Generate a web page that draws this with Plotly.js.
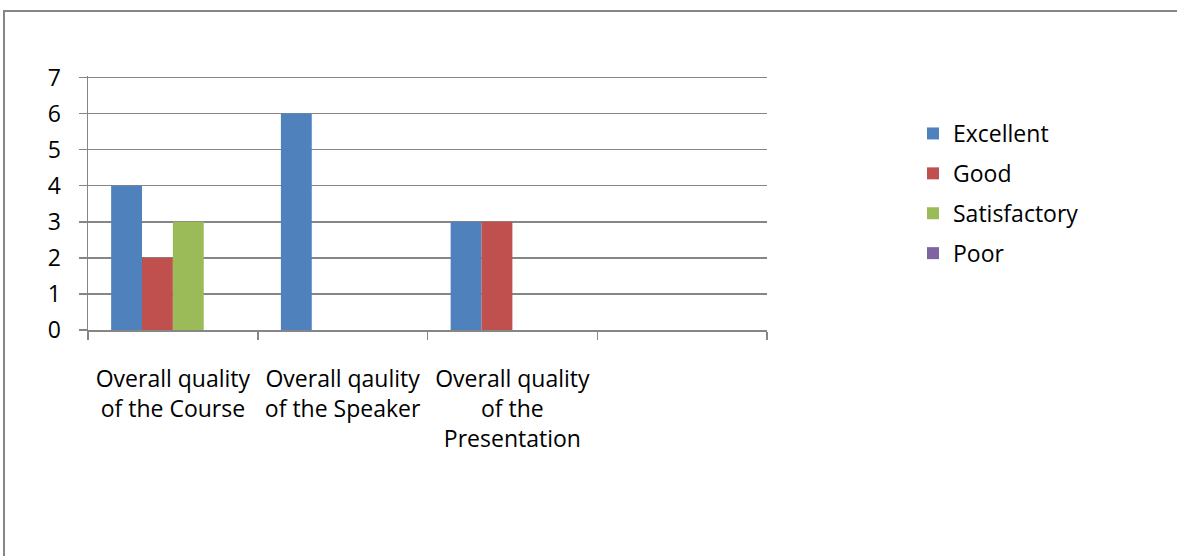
<!DOCTYPE html>
<html>
<head>
<meta charset="utf-8">
<script src="https://cdn.plot.ly/plotly-3.0.1.min.js"></script>
<style>
html,body{margin:0;padding:0;background:#fff;}
#chart{width:1177px;height:556px;}
</style>
</head>
<body>
<div id="chart"></div>
<script>
const categories = ["Overall quality<br>of the Course", "Overall qaulity<br>of the Speaker", "Overall quality<br>of the<br>Presentation", " "];
const seriesNames = ["Excellent", "Good", "Satisfactory", "Poor"];
const excellent = [4, 6, 3, null];
const good = [2, 0, 3, null];
const satisfactory = [3, 0, 0, null];
const poor = [0, 0, 0, null];
const colors = ["#4F81BD", "#C0504D", "#9BBB59", "#8064A2"];
const yTicks = [0, 1, 2, 3, 4, 5, 6, 7];

const values = [excellent, good, satisfactory, poor];
const FONT = "'Open Sans', Lato, sans-serif";
const FS = 23;

const traces = seriesNames.map((name, i) => ({
  type: "bar",
  name: name,
  x: categories,
  y: values[i],
  marker: {color: colors[i], line: {width: 0}},
  legendgroup: "g" + i,
  hoverinfo: "x+y+name"
}));

const W = 1177, H = 556, L = 88, R = 410, T = 76, B = 226;
const pw = W - L - R, ph = H - T - B;
const px = v => (v - L) / pw;
const py = v => (H - B - v) / ph;

const layout = {
  width: W, height: H,
  margin: {l: L, r: R, t: T, b: B, pad: 0},
  paper_bgcolor: "#ffffff",
  plot_bgcolor: "#ffffff",
  font: {family: FONT, size: FS, color: "#000000"},
  barmode: "group",
  bargap: 0.2727,
  bargroupgap: 0,
  showlegend: true,
  legend: {
    x: px(913), y: py(112), xanchor: "left", yanchor: "top",
    font: {family: FONT, size: FS, color: "#000"},
    tracegroupgap: 7,
    itemwidth: 30,
    bgcolor: "rgba(0,0,0,0)"
  },
  xaxis: {
    type: "category",
    categoryorder: "array",
    categoryarray: categories,
    range: [-0.5, 3.5],
    showgrid: false,
    showline: true, linecolor: "#868686", linewidth: 1.5,
    ticks: "outside", tickson: "boundaries", ticklen: 8, tickcolor: "#868686", tickwidth: 1.5,
    tickfont: {family: FONT, size: FS, color: "#000"},
    ticklabelstandoff: 28,
    zeroline: false,
    fixedrange: true
  },
  yaxis: {
    range: [0, 7.04],
    tickvals: yTicks,
    ticktext: yTicks.map(String),
    showgrid: true, gridcolor: "#868686", gridwidth: 1.5,
    showline: true, linecolor: "#868686", linewidth: 1.5,
    ticks: "outside", ticklen: 8, tickcolor: "#868686", tickwidth: 1.5,
    tickfont: {family: FONT, size: FS, color: "#000"},
    ticklabelstandoff: 13,
    zeroline: false,
    fixedrange: true
  },
  shapes: [{
    type: "rect", xref: "paper", yref: "paper",
    x0: px(4), x1: px(1185), y0: py(565), y1: py(11),
    line: {color: "#868686", width: 2},
    fillcolor: "rgba(0,0,0,0)",
    layer: "below"
  }]
};

Plotly.newPlot("chart", traces, layout, {displayModeBar: false, staticPlot: true});
</script>
</body>
</html>
